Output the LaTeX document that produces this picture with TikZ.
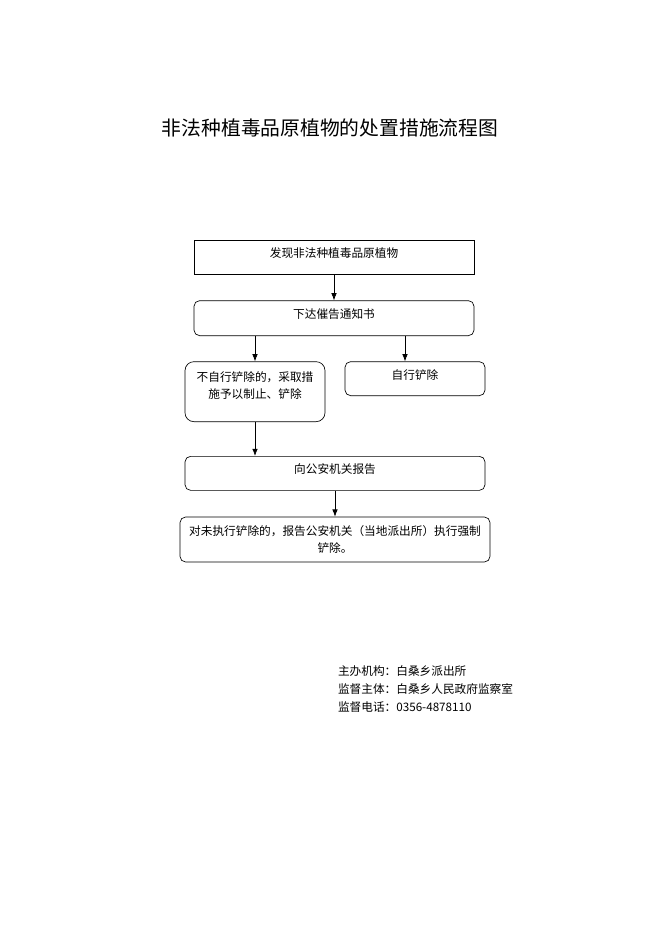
\documentclass[tikz,border=0pt]{standalone}
\usepackage{fontspec}
\newfontfamily\cjk{Noto Sans CJK SC}
\usepackage{tikz}
\usetikzlibrary{positioning}
\usetikzlibrary{arrows.meta}
\tikzset{
  stepbox/.style={draw, line width=0.6pt, minimum height=30.6pt, inner sep=2pt,
    align=center, font=\cjk\fontsize{10.5pt}{15.3pt}\selectfont},
  roundbox/.style={stepbox, rounded corners=5pt},
  oneline/.style={text height=8pt, text depth=7pt},
  flow/.style={-{Latex[length=6.5pt,width=5pt]}, line width=0.6pt},
  plain/.style={font=\cjk\fontsize{10.5pt}{15.3pt}\selectfont, inner sep=0pt}
}
\begin{document}
\begin{tikzpicture}
					\useasboundingbox (0,0) rectangle (595.8pt,-842.4pt);
					\node[font=\cjk\fontsize{17.8pt}{22pt}\selectfont] (title) at (297pt,-115pt) {非法种植毒品原植物的处置措施流程图};

					\node[stepbox, oneline, minimum width=252pt] (find) at (300.6pt,-231.3pt) {发现非法种植毒品原植物};
					\node[roundbox, oneline, minimum width=252pt, minimum height=31.5pt, below=23.4pt of find] (notice) {下达催告通知书};
					\node[roundbox, minimum width=126pt, minimum height=54pt, rounded corners=8pt,
					      below right=22.8pt and -8.1pt of notice.south west] (refuse) {不自行铲除的，采取措\\施予以制止、铲除\\[-3pt]\mbox{}};
					\node[roundbox, oneline, minimum width=126pt, below left=22.8pt and -9.9pt of notice.south east] (self) {自行铲除};
					\node[roundbox, oneline, minimum width=270pt, below right=30.6pt and 0pt of refuse.south west] (report) {向公安机关报告};
					\node[roundbox, minimum width=279pt, minimum height=40.5pt,
					      below=23.4pt of report] (force) {对未执行铲除的，报告公安机关（当地派出所）执行强制\\铲除。};

					% Footer
					\node[plain, anchor=west] (office) at (304pt,-604pt) {主办机构：白桑乡派出所};
					\node[plain, below=6pt of office.south west, anchor=north west] (monitor) {监督主体：白桑乡人民政府监察室};
					\node[plain, below=6pt of monitor.south west, anchor=north west] (phone) {监督电话：0356-4878110};

					% Connect the nodes
					\draw[flow] (find) -- (notice);
					\draw[flow] (notice.south -| refuse) -- (refuse);
					\draw[flow] ([xshift=-9pt]notice.south -| self) -- ([xshift=-9pt]self.north);
					\draw[flow] (refuse) -- (refuse.south |- report.north);
					\draw[flow] (report.south -| force) -- (force);
\end{tikzpicture}
\end{document}
